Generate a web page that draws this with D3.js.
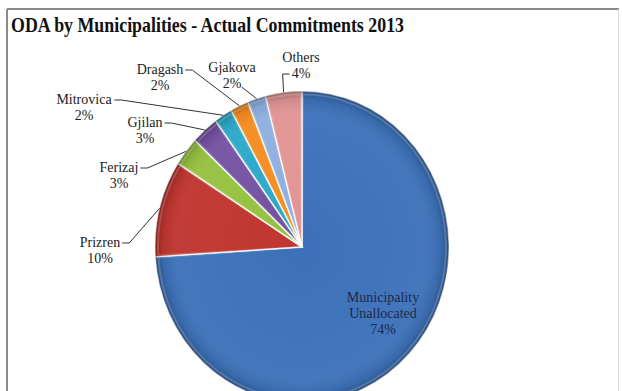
<!DOCTYPE html>
<html><head><meta charset="utf-8">
<script src="https://cdn.jsdelivr.net/npm/d3@7"></script>
<style>body{margin:0;background:#fff}svg{display:block}</style>
</head><body>
<svg id="c" width="622" height="391"></svg>
<script>
const title = "ODA by Municipalities - Actual Commitments 2013";
const categories = ["Municipality Unallocated","Prizren","Ferizaj","Gjilan","Mitrovica","Dragash","Gjakova","Others"];
const values = [74,10,3,3,2,2,2,4];
const labelLines = [["Municipality","Unallocated","74%"],["Prizren","10%"],["Ferizaj","3%"],["Gjilan","3%"],["Mitrovica","2%"],["Dragash","2%"],["Gjakova","2%"],["Others","4%"]];
const colors = ["#3C71B9","#C0352F","#95C13F","#7452A2","#2BA9C8","#F58C20","#8DAFE0","#E29494"];
// label layout (centre of first line) and leader style
const labelPos = [[383,297],[100,242],[119,167],[145,122],[84,99],[160,69],[232,67],[301,57]];
const leaderFrom = ["none","l1right","l1right","l1right","l1right","l1right","l2right","l2left"];

const svg = d3.select("#c");
const cx = 302, cy = 247, rx = 147, ry = 156;

// frame
svg.append("line").attr("x1",7).attr("y1",9).attr("x2",619).attr("y2",9).attr("stroke","#8a8a8a").attr("stroke-width",2);
svg.append("line").attr("x1",7).attr("y1",9).attr("x2",7).attr("y2",391).attr("stroke","#8a8a8a").attr("stroke-width",2);
svg.append("line").attr("x1",618.5).attr("y1",9).attr("x2",618.5).attr("y2",391).attr("stroke","#d8d8d8").attr("stroke-width",1);

svg.append("text").attr("x",11).attr("y",32)
  .attr("font-family","'Liberation Serif','Times New Roman',serif").attr("font-weight","bold")
  .attr("font-size",22).attr("textLength",393).attr("lengthAdjust","spacingAndGlyphs")
  .attr("fill","#111").text(title);

const data = categories.map((c,i)=>({name:c,value:values[i],i}));
const pie = d3.pie().value(d=>d.value).sort(null).startAngle(0).endAngle(2*Math.PI);
const arcs = pie(data);
const arc = d3.arc().innerRadius(0).outerRadius(rx);

const defs = svg.append("defs");
const rg = defs.append("radialGradient").attr("id","shade").attr("gradientUnits","userSpaceOnUse")
  .attr("cx",0).attr("cy",0).attr("r",rx);
rg.append("stop").attr("offset","0").attr("stop-color","#fff").attr("stop-opacity",0.0);
rg.append("stop").attr("offset","0.85").attr("stop-color","#fff").attr("stop-opacity",0.04);
rg.append("stop").attr("offset","0.95").attr("stop-color","#000").attr("stop-opacity",0.08);
rg.append("stop").attr("offset","1").attr("stop-color","#000").attr("stop-opacity",0.3);

const g = svg.append("g").attr("transform",`translate(${cx},${cy}) scale(1,${ry/rx})`);
g.selectAll("path.s").data(arcs).join("path").attr("class","s")
  .attr("d",arc).attr("fill",d=>colors[d.data.i])
  .attr("stroke","#fff").attr("stroke-width",1.2).attr("stroke-opacity",0.85);
g.selectAll("path.o").data(arcs).join("path").attr("class","o")
  .attr("d",arc).attr("fill","url(#shade)");
// inner highlights near slice edges
g.selectAll("path.h").data(arcs).join("path").attr("class","h")
  .attr("d",d3.arc().innerRadius(0).outerRadius(rx-3).padAngle(0.012))
  .attr("fill","none").attr("stroke","#fff").attr("stroke-opacity",0.18).attr("stroke-width",2);

const font = "'Liberation Serif','Times New Roman',serif";
arcs.forEach((d,k)=>{
  const i = d.data.i;
  const [lx,ly] = labelPos[i];
  const lines = labelLines[i];
  const tg = svg.append("g");
  const texts = lines.map((t,j)=>tg.append("text").attr("x",lx).attr("y",ly+5+j*16)
      .attr("text-anchor","middle").attr("font-family",font).attr("font-size",14)
      .attr("fill", i===0 ? "#1b2a48" : "#222").text(t));
  if (leaderFrom[i] === "none") return;
  const th = (d.startAngle+d.endAngle)/2;
  const ex = cx + rx*Math.sin(th), ey = cy - ry*Math.cos(th);
  let pts;
  if (leaderFrom[i] === "l1right") {
    const b = texts[0].node().getBBox();
    const sx = b.x + b.width + 2, sy = ly + 1;
    pts = [[sx,sy],[sx+7,sy],[ex,ey]];
  } else if (leaderFrom[i] === "l2right") {
    const b = texts[1].node().getBBox();
    const sx = b.x + b.width, sy = ly + 20;
    pts = [[sx,sy],[ex,ey]];
  } else {
    const b = texts[1].node().getBBox();
    const sx = b.x - 2, sy = ly + 17;
    pts = [[sx,sy],[sx-7,sy],[ex,ey]];
  }
  svg.append("path").attr("d",d3.line()(pts)).attr("fill","none")
    .attr("stroke","#333").attr("stroke-width",1);
});
</script>
</body></html>
